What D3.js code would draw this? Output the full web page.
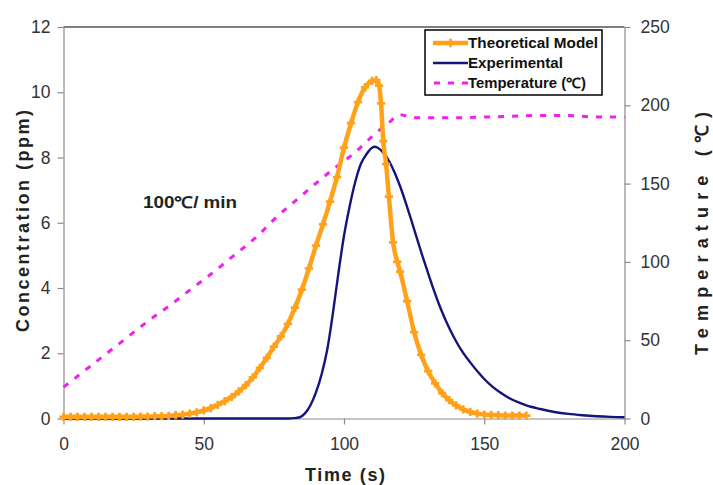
<!DOCTYPE html>
<html><head><meta charset="utf-8">
<script src="https://cdn.jsdelivr.net/npm/d3@7"></script>
<style>
body{margin:0;background:#fff;}
svg{display:block;font-family:"Liberation Sans",Arial,sans-serif;}
</style></head>
<body><svg id="chart" width="713" height="485"></svg>
<script>
// ---- data ----
const modelTime = [0,2.5,5,7.5,10,12.5,15,17.5,20,22.5,25,27.5,30,32.5,35,37.5,40,42.5,45,47.5,50,52.5,55,57.5,60,62.5,65,67.5,70,72.5,75,77.5,80,82.5,85,87.5,90,92.5,95,97.5,100,102.5,105,107.5,110,111.5,112.5,113.2,114,115,116,117.5,119,120,122.5,125,127.5,130,132.5,135,137.5,140,142.5,145,147.5,150,152.5,155,157.5,160,162.5,165];
const modelConc = [0.05,0.05,0.05,0.05,0.05,0.05,0.05,0.05,0.05,0.05,0.05,0.06,0.06,0.07,0.07,0.08,0.1,0.12,0.15,0.19,0.25,0.32,0.42,0.53,0.66,0.83,1.02,1.26,1.55,1.86,2.2,2.52,2.9,3.4,3.95,4.6,5.3,5.95,6.65,7.4,8.3,9.05,9.7,10.15,10.35,10.37,10.2,9.66,8.5,7.8,6.8,5.4,4.8,4.5,3.6,2.65,1.95,1.45,1.08,0.78,0.56,0.4,0.28,0.2,0.15,0.12,0.11,0.1,0.09,0.09,0.09,0.09];

const expTime = [0,20,40,60,80,82,84,86,88,90,92,94,96,98,100,102,104,106,108,110,111,112,114,116,118,120,122,124,126,128,130,132,134,136,138,140,142,145,148,150,153,156,159,162,165,170,175,180,185,190,195,200];
const expConc = [0,0,0,0,0,0.01,0.03,0.15,0.4,0.8,1.35,2.1,3.2,4.45,5.6,6.5,7.25,7.8,8.1,8.3,8.33,8.3,8.15,7.9,7.55,7.12,6.62,6.08,5.52,4.97,4.45,3.94,3.47,3.06,2.69,2.36,2.07,1.72,1.4,1.21,0.97,0.78,0.62,0.5,0.4,0.29,0.2,0.14,0.1,0.07,0.05,0.04];

const tempTime = [0,10,20,30,40,45,51,60,70,75,84,96,104,110,116,120,125,130,140,150,160,170,180,190,200];
const tempVal  = [20,34,48,62,75,82,90,103,118,127,141,159,170,180,189,194,192,192,192,192.5,193,193.5,193.5,192.5,192.5];

const xTicks = [0,50,100,150,200];
const yLeftTicks = [0,2,4,6,8,10,12];
const yRightTicks = [0,50,100,150,200,250];
const legendLabels = ["Theoretical Model","Experimental","Temperature (\u2103)"];
const rateLabel = "100\u2103/ min";

// ---- layout ----
const svg = d3.select("#chart");
const L = 63.5, R = 624.5, T = 27, B = 418.5;
const x = d3.scaleLinear().domain([0,200]).range([L,R]);
const yL = d3.scaleLinear().domain([0,12]).range([B,T]);
const yR = d3.scaleLinear().domain([0,250]).range([B,T]);

const orange = "#FFA21A", navy = "#14147A", magenta = "#F020F0", axisCol = "#8c8c8c";

// top border
svg.append("line").attr("x1",L).attr("x2",R).attr("y1",T).attr("y2",T).attr("stroke","#000").attr("stroke-width",1.2);

// axes
function styleAxis(g){
  g.selectAll(".domain").attr("stroke",axisCol).attr("stroke-width",1.2);
  g.selectAll(".tick line").attr("stroke",axisCol).attr("stroke-width",1.2);
  g.selectAll(".tick text").attr("fill","#333").attr("font-size",17.5).attr("font-family","Liberation Sans, Arial, sans-serif");
}
const gx = svg.append("g").attr("transform",`translate(0,${B})`)
  .call(d3.axisBottom(x).tickValues(xTicks).tickSize(6).tickSizeOuter(0).tickPadding(13));
styleAxis(gx);
const gl = svg.append("g").attr("transform",`translate(${L},0)`)
  .call(d3.axisLeft(yL).tickValues(yLeftTicks).tickSize(6).tickSizeOuter(0).tickPadding(7));
styleAxis(gl);
const gr = svg.append("g").attr("transform",`translate(${R},0)`)
  .call(d3.axisRight(yR).tickValues(yRightTicks).tickSize(6).tickSizeOuter(0).tickPadding(10));
styleAxis(gr);

// series
const modelData = modelTime.map((t,i)=>[t,modelConc[i]]);
const expData = expTime.map((t,i)=>[t,expConc[i]]);
const tempData = tempTime.map((t,i)=>[t,tempVal[i]]);

svg.append("path").datum(tempData)
  .attr("d", d3.line().x(d=>x(d[0])).y(d=>yR(d[1])).curve(d3.curveMonotoneX))
  .attr("fill","none").attr("stroke",magenta).attr("stroke-width",3).attr("stroke-dasharray","6,8");

svg.append("path").datum(expData)
  .attr("d", d3.line().x(d=>x(d[0])).y(d=>yL(d[1])).curve(d3.curveMonotoneX))
  .attr("fill","none").attr("stroke",navy).attr("stroke-width",2.4);

svg.append("path").datum(modelData)
  .attr("d", d3.line().x(d=>x(d[0])).y(d=>yL(d[1])).curve(d3.curveMonotoneX))
  .attr("fill","none").attr("stroke",orange).attr("stroke-width",4.5);

const plus = d3.symbol().type(d3.symbolCross).size(38);
svg.append("g").selectAll("path").data(modelData).join("path")
  .attr("transform",d=>`translate(${x(d[0])},${yL(d[1])})`)
  .attr("d",plus).attr("fill",orange);

// axis titles
svg.append("text").attr("transform",`translate(29,${(110+332)/2}) rotate(-90)`)
  .attr("text-anchor","middle").attr("font-weight","bold").attr("font-size",18).attr("fill","#222")
  .attr("textLength",222).attr("lengthAdjust","spacing").text("Concentration (ppm)");
svg.append("text").attr("transform",`translate(708,${(112+355)/2}) rotate(-90)`)
  .attr("text-anchor","middle").attr("font-weight","bold").attr("font-size",18).attr("fill","#222")
  .attr("textLength",243).attr("lengthAdjust","spacing").text("Temperature (\u2103)");
svg.append("text").attr("x",345).attr("y",481)
  .attr("text-anchor","middle").attr("font-weight","bold").attr("font-size",18).attr("fill","#222")
  .attr("textLength",80).attr("lengthAdjust","spacing").text("Time  (s)");

svg.append("text").attr("x",143).attr("y",208)
  .attr("font-weight","bold").attr("font-size",16).attr("fill","#222")
  .attr("textLength",94).attr("lengthAdjust","spacingAndGlyphs").text(rateLabel);

// legend
const lg = svg.append("g");
lg.append("rect").attr("x",425).attr("y",30).attr("width",177).attr("height",65)
  .attr("fill","#fff").attr("stroke","#000").attr("stroke-width",1.5);
const rows = [43,63,83];
const legendWidths = [130,95,118];
lg.append("line").attr("x1",433).attr("x2",468).attr("y1",rows[0]).attr("y2",rows[0]).attr("stroke",orange).attr("stroke-width",4.5);
lg.append("path").attr("transform",`translate(450.5,${rows[0]})`).attr("d",plus).attr("fill",orange);
lg.append("line").attr("x1",433).attr("x2",468).attr("y1",rows[1]).attr("y2",rows[1]).attr("stroke",navy).attr("stroke-width",2.4);
lg.append("line").attr("x1",434).attr("x2",468).attr("y1",rows[2]).attr("y2",rows[2]).attr("stroke",magenta).attr("stroke-width",3).attr("stroke-dasharray","6,8");
legendLabels.forEach((s,i)=>{
  lg.append("text").attr("x",468).attr("y",rows[i]+5)
    .attr("font-weight","bold").attr("font-size",14).attr("fill","#111")
    .attr("textLength",legendWidths[i]).attr("lengthAdjust","spacingAndGlyphs").text(s);
});
</script></body></html>
